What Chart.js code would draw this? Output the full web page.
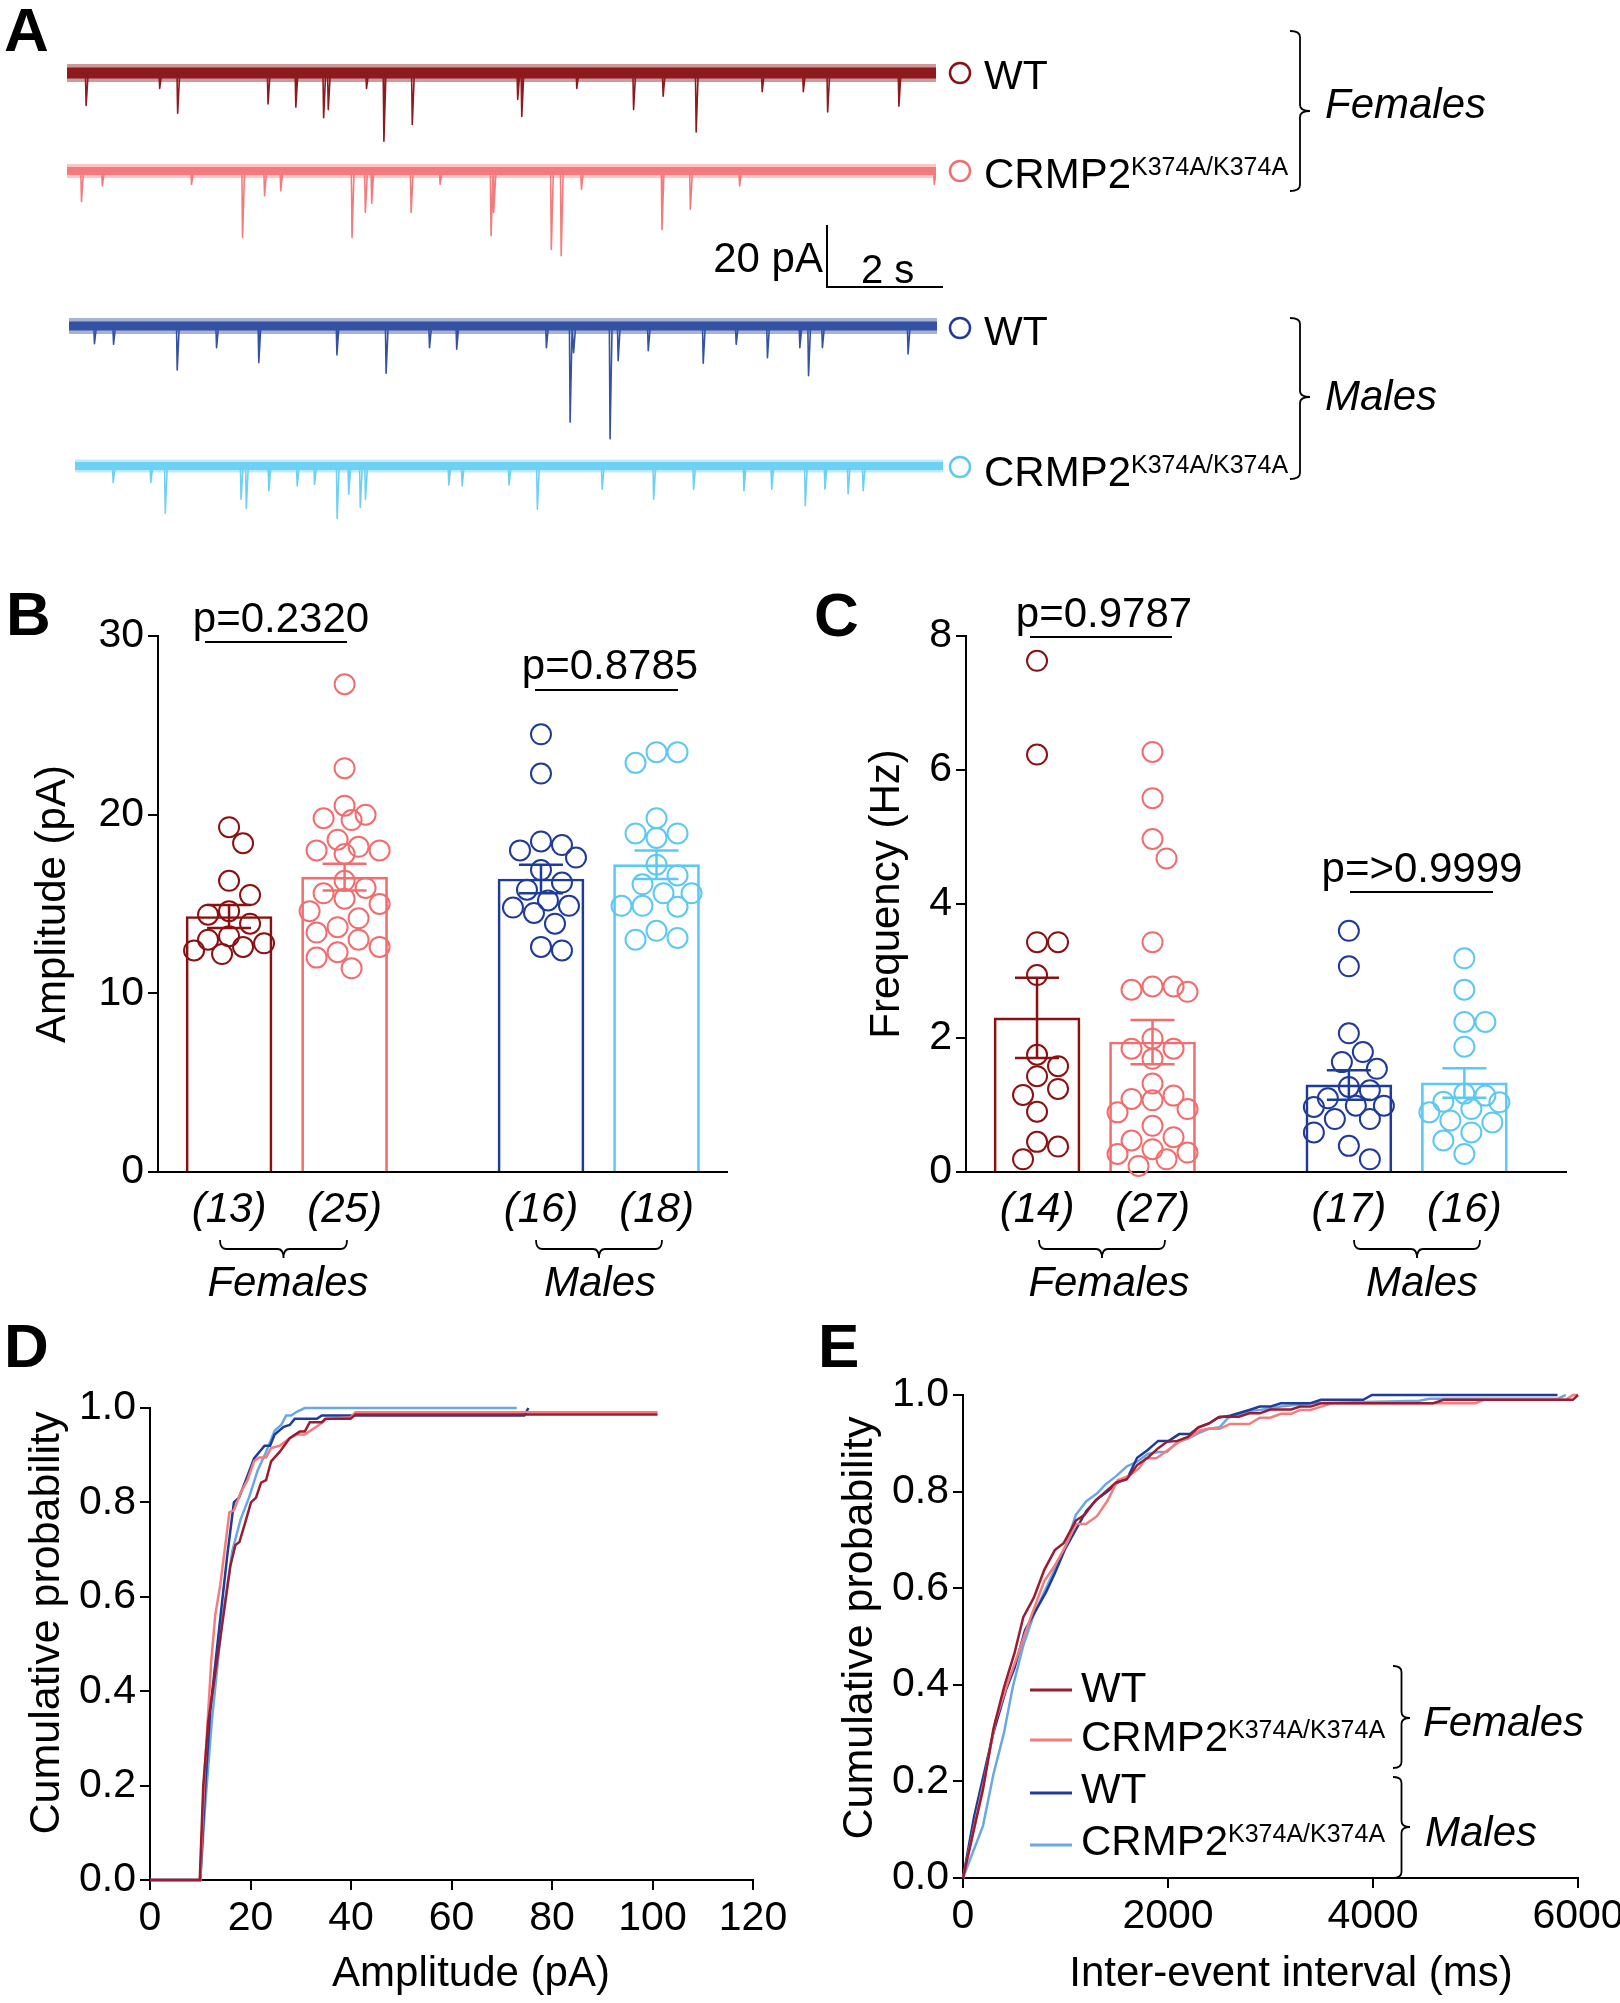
<!DOCTYPE html>
<html>
<head>
<meta charset="utf-8">
<script src="https://cdn.jsdelivr.net/npm/chart.js@4.4.1/dist/chart.umd.min.js"></script>
<style>
  html, body { margin: 0; padding: 0; background: #fff; }
  #page { position: relative; width: 1620px; height: 2003px; overflow: hidden; }
  canvas { position: absolute; }
  #ann { position: absolute; left: 0; top: 0; pointer-events: none; }
</style>
</head>
<body>
<div id="page">
  <canvas id="tr1" width="869" height="155" style="left:67px;top:42px"></canvas>
  <canvas id="tr2" width="869" height="155" style="left:67px;top:140px"></canvas>
  <canvas id="tr3" width="868" height="155" style="left:69px;top:295px"></canvas>
  <canvas id="tr4" width="868" height="155" style="left:75px;top:435px"></canvas>
  <canvas id="amp" width="780" height="700" style="left:0px;top:560px"></canvas>
  <canvas id="freq" width="820" height="700" style="left:800px;top:560px"></canvas>
  <canvas id="cdfAmp" width="800" height="560" style="left:0px;top:1380px"></canvas>
  <canvas id="cdfIei" width="815" height="570" style="left:805px;top:1370px"></canvas>
  <svg id="ann" width="1620" height="2003"></svg>
</div>
<script>
const FONT = "'Liberation Sans', Arial, sans-serif";
Chart.defaults.font.family = FONT;
Chart.defaults.color = '#000';

// ---------- data ----------
// A: example traces, events as [time (s), amplitude (pA)]
const trWtF = [[0.33,10.5],[1.60,5],[1.91,13],[3.47,10],[3.95,11],[4.43,14.4],[4.51,11.8],[5.17,5],[5.47,22],[5.96,16.6],[7.78,8.5],[7.85,14],[8.80,5],[9.78,11.8],[10.29,7.5],[10.86,19],[12.0,6],[12.71,6],[13.13,12.6],[14.36,10.7]];
const trCrF = [[0.25,9.8],[0.61,4.8],[2.15,4.3],[3.03,21.4],[3.41,8],[3.69,6.4],[4.92,21.4],[5.15,13.4],[5.26,10.4],[5.94,13.4],[6.44,4.3],[7.32,20.9],[7.37,13.4],[8.36,25.3],[8.53,27.3],[8.88,5.9],[10.27,18.9],[10.76,12.3],[11.61,4.8],[14.97,4.3]];
const trWtM = [[0.44,5.7],[0.77,5.9],[1.87,14.2],[2.55,7],[3.28,11.8],[4.63,9.3],[5.48,15.2],[6.23,7],[6.70,7.5],[8.25,7],[8.66,31],[8.72,8.6],[9.35,36.4],[9.49,11.2],[10.01,8],[10.96,12],[11.53,5.9],[12.07,10.2],[12.63,7],[12.78,16],[13.02,7],[14.50,9]];
const trCrM = [[0.66,5.3],[1.31,5.3],[1.56,15.2],[2.87,10.7],[2.96,13.6],[3.35,8],[3.84,6.4],[4.14,5.9],[4.53,16.9],[4.73,9.1],[4.93,13.4],[5.02,10.7],[6.46,6.1],[6.69,6.4],[7.50,6.1],[7.99,13.9],[9.11,7.5],[10.0,10.7],[10.69,7.5],[11.56,8],[12.04,7.5],[12.62,12.8],[12.96,7.5],[13.36,8.9],[13.62,8]];

// B: amplitude (pA) per cell
const ampWtF = [19.3, 18.4, 16.3, 15.5, 14.6, 14.4, 13.9, 13.2, 13.0, 12.8, 12.6, 12.4, 12.2];
const ampCrF = [27.3, 22.6, 20.5, 20.0, 19.8, 19.7, 18.6, 18.2, 18.0, 18.0, 17.8, 16.3, 15.9, 15.6, 15.3, 15.0, 14.6, 14.2, 13.7, 13.4, 13.0, 12.6, 12.3, 12.0, 11.4];
const ampWtM = [24.5, 22.3, 18.5, 18.3, 18.0, 17.6, 16.9, 16.2, 15.8, 15.2, 14.9, 14.8, 14.5, 13.9, 12.6, 12.4];
const ampCrM = [23.5, 23.5, 22.9, 19.8, 18.95, 18.95, 18.7, 17.2, 16.6, 16.1, 15.6, 15.6, 14.9, 14.85, 14.9, 13.5, 13.1, 13.0];
const ampMean = [14.3, 16.5, 16.4, 17.2];
const ampSem = [0.65, 0.75, 0.8, 0.8];
const ampN = ['(13)', '(25)', '(16)', '(18)'];

// C: frequency (Hz) per cell
const frqWtF = [7.63, 6.23, 3.43, 3.43, 2.94, 1.75, 1.58, 1.43, 1.24, 1.15, 0.9, 0.45, 0.38, 0.19];
const frqCrF = [6.27, 5.58, 4.97, 4.68, 3.43, 2.77, 2.77, 2.72, 2.69, 1.99, 1.84, 1.84, 1.69, 1.32, 1.14, 1.09, 1.07, 0.94, 0.89, 0.69, 0.52, 0.47, 0.34, 0.29, 0.27, 0.19, 0.09];
const frqWtM = [3.6, 3.07, 2.07, 1.79, 1.64, 1.54, 1.27, 1.22, 1.1, 0.99, 0.99, 0.97, 0.79, 0.79, 0.59, 0.39, 0.19];
const frqCrM = [3.19, 2.72, 2.24, 2.24, 1.87, 1.17, 1.14, 1.05, 1.04, 0.94, 0.89, 0.77, 0.74, 0.59, 0.47, 0.27];
const frqMean = [2.3, 1.94, 1.3, 1.33];
const frqSem = [0.6, 0.33, 0.22, 0.22];
const frqN = ['(14)', '(27)', '(17)', '(16)'];

// D: cumulative probability of amplitude, [pA, P]
const cdfAmpWtF = [[0,0],[9.9,0],[10.6,0.2],[11.6,0.336],[14.0,0.513],[16.0,0.666],[17.0,0.71],[17.8,0.716],[19.1,0.763],[20.1,0.80],[21.1,0.81],[22.1,0.842],[23.1,0.847],[24.1,0.887],[25.8,0.907],[27.8,0.936],[29.8,0.95],[30.8,0.95],[31.8,0.97],[34.2,0.97],[34.9,0.977],[39.9,0.977],[40.9,0.986],[101,0.986]];
const cdfAmpCrF = [[0,0],[10,0],[10.8,0.216],[12.2,0.465],[13.0,0.562],[14.0,0.626],[15.8,0.779],[16.7,0.783],[18.0,0.82],[19.4,0.847],[20.7,0.887],[21.7,0.895],[23.1,0.895],[24.1,0.915],[25.8,0.92],[27.8,0.936],[29.2,0.944],[30.8,0.944],[33.9,0.966],[35.2,0.977],[39.9,0.98],[40.9,0.991],[101,0.991]];
const cdfAmpWtM = [[0,0],[10,0],[11,0.2],[12,0.36],[13.8,0.537],[15.4,0.69],[16.7,0.80],[17.7,0.81],[19.4,0.856],[20.7,0.893],[22.8,0.92],[23.9,0.92],[24.8,0.944],[26.6,0.96],[27.8,0.964],[28.8,0.977],[33.2,0.977],[34.2,0.984],[74.5,0.984],[75.3,1.0]];
const cdfAmpCrM = [[0,0],[10,0],[11,0.16],[12.3,0.336],[14.3,0.545],[16.4,0.698],[18.0,0.763],[19.7,0.81],[21.4,0.867],[23.1,0.907],[24.8,0.952],[26.1,0.964],[27.1,0.984],[28.1,0.984],[29.2,0.992],[30.8,1.0],[73,1.0]];

// E: cumulative probability of inter-event interval, [ms, P]
const cdfIeiWtF = [[0,0],[195,0.183],[297,0.309],[400,0.395],[503,0.466],[588,0.54],[690,0.58],[793,0.638],[896,0.679],[981,0.693],[1101,0.74],[1186,0.752],[1289,0.781],[1391,0.80],[1494,0.819],[1597,0.825],[1699,0.855],[1802,0.87],[1904,0.89],[1990,0.903],[2092,0.905],[2195,0.913],[2298,0.933],[2400,0.941],[2503,0.955],[2691,0.955],[2793,0.962],[2896,0.962],[2998,0.97],[3203,0.97],[3289,0.976],[3391,0.976],[3494,0.983],[4588,0.983],[4691,0.99],[5950,0.99],[6000,1.0]];
const cdfIeiCrF = [[0,0],[212,0.207],[315,0.324],[434,0.403],[554,0.474],[656,0.537],[793,0.615],[896,0.647],[998,0.686],[1101,0.733],[1200,0.733],[1306,0.749],[1409,0.781],[1511,0.824],[1614,0.832],[1716,0.848],[1785,0.869],[1887,0.869],[2007,0.887],[2109,0.903],[2229,0.915],[2315,0.927],[2400,0.93],[2503,0.93],[2605,0.94],[2793,0.94],[2896,0.953],[2998,0.953],[3101,0.961],[3203,0.961],[3289,0.969],[3391,0.969],[3494,0.976],[3597,0.983],[4999,0.983],[5085,0.99],[5880,0.99],[5950,1.0],[6000,1.0]];
const cdfIeiWtM = [[0,0],[109,0.128],[297,0.301],[417,0.388],[503,0.435],[605,0.513],[708,0.553],[810,0.592],[896,0.631],[998,0.682],[1101,0.721],[1203,0.76],[1306,0.784],[1409,0.80],[1511,0.819],[1614,0.832],[1699,0.87],[1802,0.886],[1904,0.905],[2007,0.905],[2109,0.919],[2212,0.919],[2298,0.933],[2400,0.941],[2486,0.953],[2605,0.957],[2793,0.969],[2896,0.976],[2998,0.976],[3101,0.983],[3391,0.983],[3494,0.99],[3904,0.99],[3990,1.0],[5800,1.0]];
const cdfIeiCrM = [[0,0],[195,0.108],[297,0.215],[400,0.301],[485,0.395],[588,0.481],[690,0.545],[793,0.592],[896,0.639],[998,0.686],[1101,0.752],[1203,0.78],[1306,0.796],[1391,0.815],[1494,0.832],[1597,0.852],[1699,0.862],[1802,0.878],[1904,0.882],[1990,0.882],[2092,0.903],[2195,0.91],[2298,0.921],[2400,0.93],[2503,0.933],[2588,0.953],[2691,0.96],[2793,0.967],[2896,0.969],[3101,0.976],[3391,0.983],[4451,0.988],[4554,0.992],[5800,0.992],[5880,1.0]];

// ---------- styling ----------
const TRACE_C = ['#8E1A1E', '#F47B7B', '#3452A4', '#6DD0F5'];
const DOT_C = ['#8B1111', '#F26D6D', '#1F3B99', '#5CC8F4'];
const CDF_C = ['#9B1B30', '#F47C7C', '#1F3C99', '#6AA8E4'];
const POS = [1, 2, 3.7, 4.7];   // bar slots on the x axis
const X0 = 0.385;

// ---------- A: traces ----------
function spikes(events) {
  const pts = [{x: 0, y: 0}];
  events.forEach(([t, a]) => pts.push({x: t - 0.012, y: 0}, {x: t, y: -a}, {x: t + 0.035, y: 0}));
  pts.push({x: 15, y: 0});
  return pts;
}

function trace(id, events, color, outerW, coreW) {
  const flat = [{x: 0, y: 0}, {x: 15, y: 0}];
  new Chart(document.getElementById(id), {
    type: 'line',
    data: { datasets: [
      { data: spikes(events), borderColor: color, borderWidth: 1.6, pointRadius: 0, borderJoinStyle: 'round' },
      { data: flat, borderColor: color, borderWidth: coreW, pointRadius: 0 },
      { data: flat, borderColor: color + '70', borderWidth: outerW, pointRadius: 0 }
    ]},
    options: {
      responsive: false, animation: false, devicePixelRatio: 1,
      layout: { padding: 0, autoPadding: false },
      plugins: { legend: { display: false }, tooltip: { enabled: false } },
      scales: {
        x: { type: 'linear', min: 0, max: 15, display: false },
        y: { min: -40, max: 10, display: false }
      }
    }
  });
}

trace('tr1', trWtF, TRACE_C[0], 18, 11);
trace('tr2', trCrF, TRACE_C[1], 14, 8);
trace('tr3', trWtM, TRACE_C[2], 16, 9);
trace('tr4', trCrM, TRACE_C[3], 13, 8);

// ---------- B, C: bars with dots ----------
const errPlugin = {
  id: 'err',
  afterDatasetsDraw(chart, args, opts) {
    const { ctx, scales: { x, y } } = chart;
    ctx.save();
    ctx.lineWidth = 2.5;
    opts.means.forEach((m, i) => {
      const px = x.getPixelForValue(POS[i]);
      const top = y.getPixelForValue(m + opts.sems[i]);
      const bot = y.getPixelForValue(m - opts.sems[i]);
      ctx.strokeStyle = DOT_C[i];
      ctx.beginPath();
      ctx.moveTo(px, top); ctx.lineTo(px, bot);
      ctx.moveTo(px - 22, top); ctx.lineTo(px + 22, top);
      ctx.moveTo(px - 22, bot); ctx.lineTo(px + 22, bot);
      ctx.stroke();
    });
    ctx.restore();
  }
};

// spread overlapping dots sideways, GraphPad style
function swarm(chart) {
  const x = chart.scales.x, y = chart.scales.y;
  const STEP = 7, MIND = 21, KMAX = 5;
  chart.data.datasets.forEach(ds => {
    if (!ds.vals) return;
    const cx = x.getPixelForValue(ds.pos);
    const placed = [];
    const out = new Array(ds.vals.length);
    const order = ds.vals.map((v, i) => i).sort((a, b) => ds.vals[b] - ds.vals[a]);
    order.forEach(i => {
      const py = y.getPixelForValue(ds.vals[i]);
      let best = 0, bestD = -1, done = false;
      for (let k = 0; k <= KMAX && !done; k++) {
        for (const s of (k ? [1, -1] : [1])) {
          const off = s * k * STEP;
          let d = Infinity;
          placed.forEach(p => { d = Math.min(d, Math.hypot(p[0] - off, p[1] - py)); });
          if (d >= MIND) { best = off; done = true; break; }
          if (d > bestD) { bestD = d; best = off; }
        }
      }
      placed.push([best, py]);
      out[i] = { x: x.getValueForPixel(cx + best), y: ds.vals[i] };
    });
    ds.data = out;
  });
  chart.update('none');
}

function dotBar(id, sets, means, sems, nLabels, ymax, step, xmax, yW, padR) {
  const datasets = [{
    type: 'bar', order: 3,
    data: POS.map((p, i) => ({ x: p, y: means[i] })),
    borderColor: DOT_C, backgroundColor: 'rgba(0,0,0,0)', borderWidth: 2, barThickness: 86
  }];
  sets.forEach((vals, i) => datasets.push({
    type: 'scatter', order: 1, vals, pos: POS[i],
    data: vals.map(v => ({ x: POS[i], y: v })),
    pointRadius: 10, pointBorderWidth: 2, borderColor: DOT_C[i],
    pointBackgroundColor: 'rgba(0,0,0,0)', backgroundColor: 'rgba(0,0,0,0)', clip: false
  }));
  const chart = new Chart(document.getElementById(id), {
    type: 'bar',
    data: { datasets },
    options: {
      responsive: false, animation: false, devicePixelRatio: 1,
      layout: { padding: { top: 76, right: padR, left: 0, bottom: 0 }, autoPadding: false },
      plugins: { legend: { display: false }, tooltip: { enabled: false }, err: { means, sems } },
      scales: {
        x: {
          type: 'linear', min: X0, max: xmax, offset: false,
          grid: { display: false },
          border: { color: '#000', width: 2 },
          ticks: { autoSkip: false, maxRotation: 0, padding: 5, color: '#000',
                   font: { size: 42, style: 'italic' }, callback: (v, i) => nLabels[i] },
          afterBuildTicks: s => { s.ticks = POS.map(v => ({ value: v })); },
          afterFit: s => { s.height = 88; s.paddingLeft = 0; s.paddingRight = 0; }
        },
        y: {
          min: 0, max: ymax,
          ticks: { stepSize: step, padding: 4, color: '#000', font: { size: 41 } },
          grid: { drawOnChartArea: false, drawTicks: true, tickLength: 10, color: '#000', lineWidth: 2 },
          border: { color: '#000', width: 2 },
          afterFit: s => { s.width = yW; s.paddingTop = 0; s.paddingBottom = 0; }
        }
      }
    },
    plugins: [errPlugin]
  });
  swarm(chart);
}

dotBar('amp', [ampWtF, ampCrF, ampWtM, ampCrM], ampMean, ampSem, ampN, 30, 10, 5.31, 158, 53);
dotBar('freq', [frqWtF, frqCrF, frqWtM, frqCrM], frqMean, frqSem, frqN, 8, 2, 5.58, 166, 54);

// ---------- D, E: cumulative curves ----------
function cdf(id, series, xmax, xstep, yW, xH, padTop, padR) {
  new Chart(document.getElementById(id), {
    type: 'scatter',
    data: { datasets: series.map((s, i) => ({
      data: s.map(([x, y]) => ({ x, y })), showLine: true, tension: 0,
      borderColor: CDF_C[i], borderWidth: 2.5, pointRadius: 0, clip: 6
    })) },
    options: {
      responsive: false, animation: false, devicePixelRatio: 1,
      layout: { padding: { top: padTop, right: padR, left: 0, bottom: 0 }, autoPadding: false },
      plugins: { legend: { display: false }, tooltip: { enabled: false } },
      scales: {
        x: {
          type: 'linear', min: 0, max: xmax,
          ticks: { stepSize: xstep, padding: 4, maxRotation: 0, autoSkip: false, color: '#000',
                   font: { size: 41 }, callback: v => String(v) },
          grid: { drawOnChartArea: false, tickLength: 10, color: '#000', lineWidth: 2 },
          border: { color: '#000', width: 2 },
          afterFit: s => { s.height = xH; s.paddingLeft = 0; s.paddingRight = 0; }
        },
        y: {
          min: 0, max: 1,
          ticks: { stepSize: 0.2, padding: 4, color: '#000', font: { size: 41 }, callback: v => v.toFixed(1) },
          grid: { drawOnChartArea: false, tickLength: 10, color: '#000', lineWidth: 2 },
          border: { color: '#000', width: 2 },
          afterFit: s => { s.width = yW; s.paddingTop = 0; s.paddingBottom = 0; }
        }
      }
    }
  });
}

cdf('cdfAmp', [cdfAmpWtF, cdfAmpCrF, cdfAmpWtM, cdfAmpCrM], 120, 20, 150, 60, 28, 47);
cdf('cdfIei', [cdfIeiWtF, cdfIeiCrF, cdfIeiWtM, cdfIeiCrM], 6000, 2000, 158, 62, 25, 42);

// ---------- labels, braces, scale bar ----------
const svgParts = [];
const txt = (x, y, s, size, extra = '') =>
  svgParts.push(`<text x="${x}" y="${y}" font-size="${size}" ${extra}>${s}</text>`);
const crmp = (x, y) =>
  svgParts.push(`<text x="${x}" y="${y}" font-size="42">CRMP2<tspan font-size="25" dy="-13">K374A/K374A</tspan></text>`);
const vtxt = (x, y, s, size) =>
  svgParts.push(`<text transform="translate(${x},${y}) rotate(-90)" text-anchor="middle" dominant-baseline="central" font-size="${size}">${s}</text>`);
const path = (d, c = '#000', w = 2) =>
  svgParts.push(`<path d="${d}" fill="none" stroke="${c}" stroke-width="${w}"/>`);
const vBrace = (x0, x1, y0, y1, ym) => {
  const xm = (x0 + x1) / 2;
  path(`M${x0} ${y0} Q${xm} ${y0} ${xm} ${y0 + 6} L${xm} ${ym - 6} Q${xm} ${ym} ${x1} ${ym} Q${xm} ${ym} ${xm} ${ym + 6} L${xm} ${y1 - 6} Q${xm} ${y1} ${x0} ${y1}`, '#000', 1.8);
};
const hBrace = (x0, x1, y0, y1) => {
  const xm = (x0 + x1) / 2, yb = (y0 + y1) / 2;
  path(`M${x0} ${y0} Q${x0} ${yb} ${x0 + 6} ${yb} L${xm - 6} ${yb} Q${xm} ${yb} ${xm} ${y1} Q${xm} ${yb} ${xm + 6} ${yb} L${x1 - 6} ${yb} Q${x1} ${yb} ${x1} ${y0}`, '#000', 1.8);
};
const IT = 'font-style="italic"';
const MID = 'text-anchor="middle"';

// panel letters
[['A', 4, 51], ['B', 6, 635], ['C', 814, 636], ['D', 4, 1367], ['E', 818, 1367]]
  .forEach(([s, x, y]) => txt(x, y, s, 62, 'font-weight="bold"'));

// A legend
[[73, 0], [171, 1], [328, 2], [467, 3]].forEach(([y, i]) =>
  svgParts.push(`<circle cx="960" cy="${y}" r="10" fill="none" stroke="${DOT_C[i]}" stroke-width="2.5"/>`));
txt(984, 89, 'WT', 41); crmp(984, 188);
txt(984, 345, 'WT', 41); crmp(984, 486);
vBrace(1290, 1310, 31, 191, 111); vBrace(1290, 1310, 318, 479, 397);
txt(1325, 118, 'Females', 42, IT); txt(1325, 410, 'Males', 42, IT);
path('M827 225 L827 287 L943 287');
txt(823, 272, '20 pA', 42, 'text-anchor="end"');
txt(861, 283, '2 s', 40);

// B
txt(281, 632, 'p=0.2320', 42, MID); path('M205 642 L347 642');
txt(610, 679, 'p=0.8785', 42, MID); path('M535 690 L678 690');
vtxt(50, 904, 'Amplitude (pA)', 42);
hBrace(220, 347, 1240, 1258); txt(288, 1296, 'Females', 42, IT + ' ' + MID);
hBrace(536, 662, 1240, 1258); txt(600, 1296, 'Males', 42, IT + ' ' + MID);

// C
txt(1104, 627, 'p=0.9787', 42, MID); path('M1030 637 L1172 637');
txt(1422, 882, 'p=&gt;0.9999', 42, MID); path('M1350 892 L1493 892');
vtxt(884, 894, 'Frequency (Hz)', 42);
hBrace(1039, 1165, 1240, 1258); txt(1109, 1296, 'Females', 42, IT + ' ' + MID);
hBrace(1354, 1480, 1240, 1258); txt(1422, 1296, 'Males', 42, IT + ' ' + MID);

// D
vtxt(44, 1623, 'Cumulative probability', 43);
txt(471, 1986, 'Amplitude (pA)', 42, MID);

// E
vtxt(857, 1628, 'Cumulative probability', 43);
txt(1291, 1986, 'Inter-event interval (ms)', 42, MID);
[1690, 1740, 1793, 1845].forEach((y, i) => path(`M1030 ${y} L1072 ${y}`, CDF_C[i], 3));
txt(1081, 1702, 'WT', 42); crmp(1081, 1751);
txt(1081, 1803, 'WT', 42); crmp(1081, 1855);
vBrace(1393, 1410, 1666, 1768, 1718); vBrace(1393, 1410, 1777, 1878, 1827);
txt(1423, 1736, 'Females', 42, IT); txt(1425, 1846, 'Males', 42, IT);

const svg = document.getElementById('ann');
svg.setAttribute('font-family', FONT);
svg.innerHTML = svgParts.join('');
</script>
</body>
</html>
